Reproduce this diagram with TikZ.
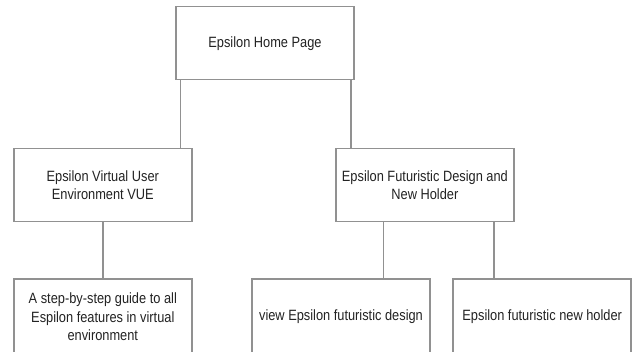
\documentclass[tikz,border=0pt]{standalone}
\usepackage{fontspec}
\setmainfont{Liberation Sans}[FakeStretch=0.86]
\usetikzlibrary{positioning}

\definecolor{boxgray}{RGB}{145,145,145}
\definecolor{textgray}{RGB}{35,35,35}

\begin{document}
\begin{tikzpicture}[x=1pt, y=-1pt,
    page/.style={draw=boxgray, line width=1.6pt, fill=white, text=textgray,
      minimum width=178pt, minimum height=73pt, align=center,
      font=\fontsize{14.9pt}{18.5pt}\selectfont, inner sep=0pt},
    leaf/.style={page, minimum height=76pt},
    link/.style={draw=boxgray, line width=1.6pt}]
  \useasboundingbox (0,0) rectangle (633,352);

  % Home page
  \node[page] (home) at (265,43.2) {Epsilon Home Page};

  % Second level
  \node[page] (vue) at (102.8,185) {Epsilon Virtual User\\Environment VUE};
  \node[page] (design) at (424.9,185) {Epsilon Futuristic Design and\\New Holder};

  % Third level
  \node[leaf] (guide) at (102.8,317) {A step-by-step guide to all\\Espilon features in virtual\\environment};
  \node[leaf] (view) at (341,317) {view Epsilon futuristic design};
  \node[leaf] (holder) at (542.2,317) {Epsilon futuristic new holder};

  % Connectors
  \draw[link] ([xshift=5.3pt]home.south west) -- ([xshift=5.3pt]home.south west |- vue.north);
  \draw[link] ([xshift=-4pt]home.south east) -- ([xshift=-4pt]home.south east |- design.north);
  \draw[link] (vue.south) -- (guide.north);
  \draw[link] ([xshift=48.3pt]design.south west) -- ([xshift=48.3pt]design.south west |- view.north);
  \draw[link] ([xshift=-20.7pt]design.south east) -- ([xshift=-20.7pt]design.south east |- holder.north);
\end{tikzpicture}
\end{document}
